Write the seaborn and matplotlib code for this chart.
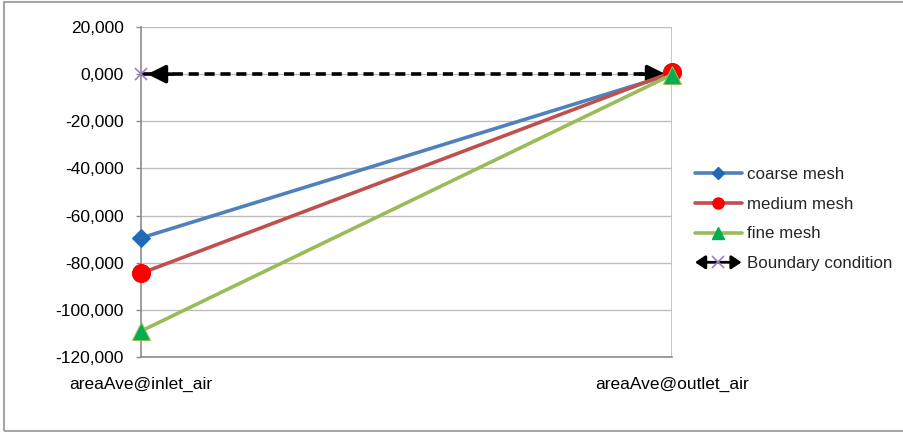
import matplotlib
matplotlib.use("Agg")
import matplotlib.pyplot as plt
from matplotlib.lines import Line2D
from matplotlib.patches import FancyArrowPatch, Rectangle
from matplotlib.legend_handler import HandlerBase
import seaborn as sns
import pandas as pd

# Data
locations = ["areaAve@inlet_air", "areaAve@outlet_air"]
coarse = [-69500, 100]
medium = [-84500, 800]
fine = [-109000, -200]
boundary = [0, 0]
ytick_values = [20000, 0, -20000, -40000, -60000, -80000, -100000, -120000]
ytick_labels = ["20,000", "0,000", "-20,000", "-40,000", "-60,000", "-80,000", "-100,000", "-120,000"]
series_names = ["coarse mesh", "medium mesh", "fine mesh", "Boundary condition"]

sns.set_theme(style="white")
plt.rcParams["font.family"] = ["Liberation Sans", "DejaVu Sans"]
FS = 12.5

fig = plt.figure(figsize=(9.04, 4.32), dpi=100)
ax = fig.add_axes([141 / 904, 1 - 357 / 432, (672 - 141) / 904, (357 - 27) / 432])

df = pd.DataFrame({
    "location": locations * 4,
    "value": coarse + medium + fine + boundary,
    "series": sum([[s] * 2 for s in series_names], []),
})

# Boundary condition: dashed black double arrow
bc = df[df.series == "Boundary condition"]
sns.lineplot(data=bc, x="location", y="value", ax=ax, color="black", lw=2.6,
             linestyle=(0, (2.8, 1.6)), marker="x", markersize=8,
             markeredgecolor="#9B7FC0", markeredgewidth=1.2, zorder=3, legend=False,
             clip_on=False)
for start, end in [(0.06, 0.012), (0.94, 0.988)]:
    ax.annotate("", xy=(end, 0), xytext=(start, 0),
                arrowprops=dict(arrowstyle="-|>,head_length=0.9,head_width=0.45",
                                color="black", lw=2.6, shrinkA=0, shrinkB=0),
                zorder=4)

styles = {
    "coarse mesh": dict(color="#4F81BD", marker="D", markersize=9, markerfacecolor="#1F6AB7",
                        markeredgecolor="#1F6AB7"),
    "medium mesh": dict(color="#C0504D", marker="o", markersize=13, markerfacecolor="#FF0000",
                        markeredgecolor="#FF0000"),
    "fine mesh": dict(color="#9BBB59", marker="^", markersize=13, markerfacecolor="#00B050",
                      markeredgecolor="#9BBB59"),
}
for name, st in styles.items():
    sub = df[df.series == name]
    sns.lineplot(data=sub, x="location", y="value", ax=ax, lw=2.6, zorder=5,
                 legend=False, clip_on=False, **st)

ax.set_xlim(0, 1)
ax.set_ylim(-120000, 20000)
ax.set_yticks(ytick_values)
ax.set_yticklabels(ytick_labels)
ax.set_xticks([0, 1])
ax.set_xticklabels(locations)
ax.set_xlabel("")
ax.set_ylabel("")
ax.tick_params(axis="y", which="major", direction="out", length=3.6, width=1,
               color="#8C8C8C", labelsize=FS, pad=8.6, left=True, labelcolor="black")
ax.tick_params(axis="x", which="major", length=0, labelsize=FS, pad=14.5, labelcolor="black")
ax.grid(axis="y", color="#BEBEBE", lw=1)
ax.grid(axis="x", visible=False)
ax.axvline(1, color="#BEBEBE", lw=1.2, zorder=1)
for side in ["top", "right"]:
    ax.spines[side].set_visible(False)
for side in ["left", "bottom"]:
    ax.spines[side].set_color("#8C8C8C")
    ax.spines[side].set_linewidth(1.2)


class ArrowHandler(HandlerBase):
    def create_artists(self, legend, orig_handle, xdescent, ydescent, width, height, fontsize, trans):
        y = height / 2 - ydescent
        arr = FancyArrowPatch((-xdescent, y), (width - xdescent, y),
                              arrowstyle="<|-|>,head_length=6,head_width=4",
                              color="black", lw=2, shrinkA=0, shrinkB=0, transform=trans,
                              mutation_scale=1)
        mk = Line2D([width / 2 - xdescent], [y], marker="x", markersize=8,
                    markeredgecolor="#9B7FC0", markeredgewidth=1.2, linestyle="none",
                    transform=trans)
        return [arr, mk]


handles = [
    Line2D([], [], color="#4F81BD", lw=2.6, marker="D", markersize=6,
           markerfacecolor="#1F6AB7", markeredgecolor="#1F6AB7"),
    Line2D([], [], color="#C0504D", lw=2.6, marker="o", markersize=8,
           markerfacecolor="#FF0000", markeredgecolor="#FF0000"),
    Line2D([], [], color="#9BBB59", lw=2.6, marker="^", markersize=8,
           markerfacecolor="#00B050", markeredgecolor="#00B050"),
    "bc",
]
fig.legend(handles, series_names, loc="upper left", bbox_to_anchor=(695 / 904, 1 - 167 / 432),
           frameon=False, fontsize=12.2, handlelength=2.75, handletextpad=0.3,
           labelspacing=0.87, borderaxespad=0, borderpad=0,
           handler_map={str: ArrowHandler()})

fig.add_artist(Rectangle((4 / 904, 1 / 432), 1.0, 429 / 432, transform=fig.transFigure,
                         fill=False, edgecolor="#A6A6A6", lw=1.5))

fig.savefig("out.png", dpi=100, facecolor="white")
